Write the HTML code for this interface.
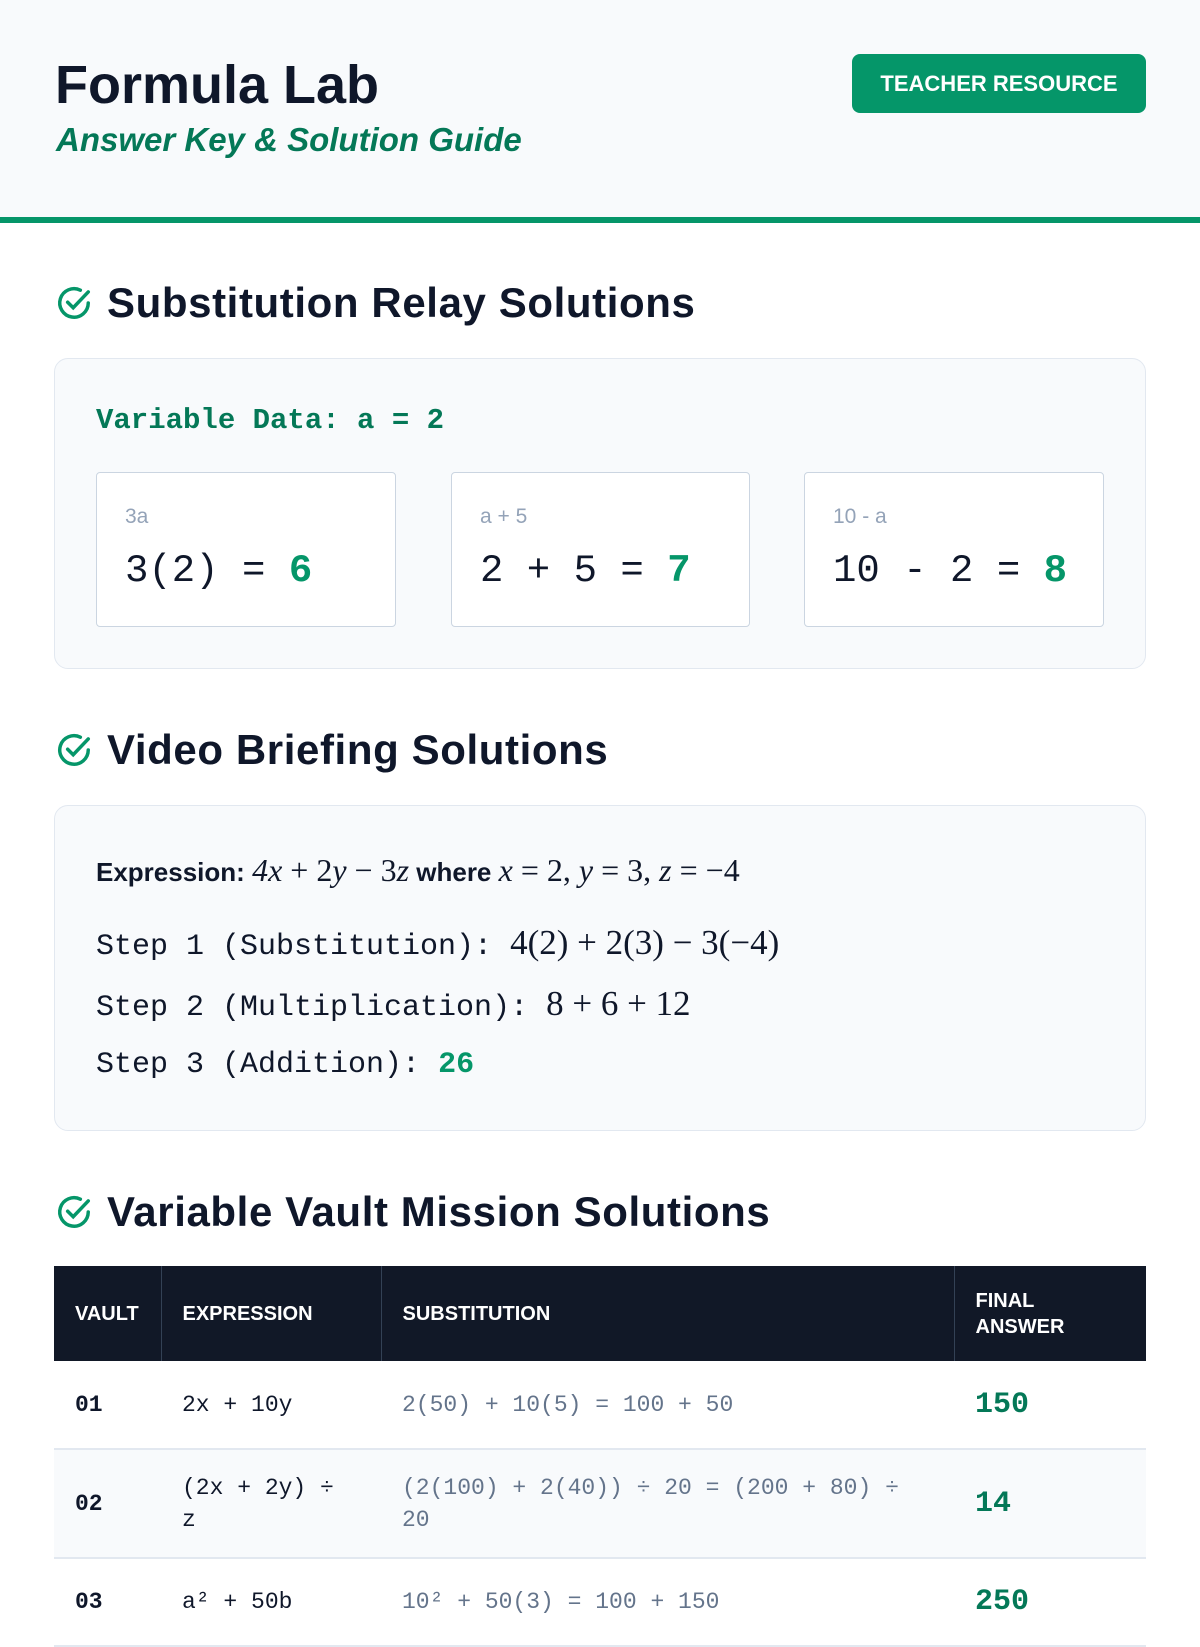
<!DOCTYPE html>
<html><head><meta charset="utf-8"><style>
*{box-sizing:border-box;margin:0;padding:0}
body{width:1200px;height:1600px;overflow:hidden;background:#fff;font-family:"Liberation Sans",sans-serif;color:#0f172a;position:relative}
.abs{position:absolute}
.mono{font-family:"Liberation Mono",monospace}
.math{font-family:"Liberation Serif",serif}
.g{color:#059669}
h2{position:absolute;left:107px;font-size:42px;letter-spacing:0.6px;font-weight:bold;color:#0f172a;line-height:1}
.chk{position:absolute;left:55px;width:38px;height:38px}
.card{position:absolute;left:54px;width:1092px;background:#f8fafc;border:1px solid #e2e8f0;border-radius:14px}
.sc{position:absolute;top:472px;height:155px;background:#fff;border:1px solid #cbd5e1;border-radius:4px}
.sc .l{position:absolute;left:28px;top:32px;font-size:21px;color:#94a3b8}
.sc .v{position:absolute;left:28px;top:76px;font-family:"Liberation Mono",monospace;font-size:39px;color:#0f172a}
.sc .v b{color:#059669}
table{position:absolute;left:54px;top:1266px;width:1092px;border-collapse:collapse;table-layout:fixed}
th{background:#111827;color:#fff;text-align:left;font-size:20px;font-weight:bold;padding:0 21px;height:95px;border-left:1px solid #334155;line-height:26px}
td{padding:0 21px;font-family:"Liberation Mono",monospace;font-size:23px;border-bottom:2px solid #e2e8f0;line-height:32px}
td.s{color:#64748b}
td.a{color:#047857;font-weight:bold;font-size:30px}
</style></head><body>
<div class="abs" style="left:0;top:0;width:1200px;height:217px;background:#f8fafc"></div>
<div class="abs" style="left:0;top:217px;width:1200px;height:6px;background:#059669"></div>
<div class="abs" style="left:55px;top:54px;font-size:54px;font-weight:bold">Formula Lab</div>
<div class="abs g" style="left:56px;top:121px;font-size:33px;font-style:italic;font-weight:bold;color:#047857">Answer Key &amp; Solution Guide</div>
<div class="abs" style="left:852px;top:54px;width:294px;height:59px;background:#059669;border-radius:8px;color:#fff;font-size:22px;font-weight:bold;text-align:center;line-height:59px">TEACHER RESOURCE</div>

<svg class="chk" style="top:284px" viewBox="0 0 24 24" fill="none" stroke="#059669" stroke-width="2.2" stroke-linecap="round"><path d="M21 12a9 9 0 1 1-5-8.1"/><path d="M8 11.5l3.5 3.5L21 5"/></svg>
<h2 style="top:282px">Substitution Relay Solutions</h2>
<div class="card" style="top:358px;height:311px"></div>
<div class="abs mono g" style="left:96px;top:404px;font-size:29px;font-weight:bold;color:#047857">Variable Data: a = 2</div>
<div class="sc" style="left:96px;width:300px"><div class="l">3a</div><div class="v">3(2) = <b>6</b></div></div>
<div class="sc" style="left:451px;width:299px"><div class="l">a + 5</div><div class="v">2 + 5 = <b>7</b></div></div>
<div class="sc" style="left:804px;width:300px"><div class="l">10 - a</div><div class="v">10 - 2 = <b>8</b></div></div>

<svg class="chk" style="top:731px" viewBox="0 0 24 24" fill="none" stroke="#059669" stroke-width="2.2" stroke-linecap="round"><path d="M21 12a9 9 0 1 1-5-8.1"/><path d="M8 11.5l3.5 3.5L21 5"/></svg>
<h2 style="top:729px">Video Briefing Solutions</h2>
<div class="card" style="top:805px;height:326px"></div>
<div class="abs" style="left:96px;top:852px;font-size:26px;white-space:nowrap"><b>Expression:</b> <span class="math" style="font-size:32px"><i>4x</i> + 2<i>y</i> − 3<i>z</i></span> <b>where</b> <span class="math" style="font-size:32px"><i>x</i> = 2, <i>y</i> = 3, <i>z</i> = −4</span></div>
<div class="abs mono" style="left:96px;top:923px;font-size:30px;white-space:nowrap">Step 1 (Substitution): <span class="math" style="font-size:35px">4(2) + 2(3) − 3(−4)</span></div>
<div class="abs mono" style="left:96px;top:984px;font-size:30px;white-space:nowrap">Step 2 (Multiplication): <span class="math" style="font-size:35px">8 + 6 + 12</span></div>
<div class="abs mono" style="left:96px;top:1048px;font-size:30px;white-space:nowrap">Step 3 (Addition): <b class="g">26</b></div>

<svg class="chk" style="top:1193px" viewBox="0 0 24 24" fill="none" stroke="#059669" stroke-width="2.2" stroke-linecap="round"><path d="M21 12a9 9 0 1 1-5-8.1"/><path d="M8 11.5l3.5 3.5L21 5"/></svg>
<h2 style="top:1191px">Variable Vault Mission Solutions</h2>
<table>
<colgroup><col style="width:107px"><col style="width:220px"><col style="width:573px"><col></colgroup>
<tr><th style="border-left:none">VAULT</th><th>EXPRESSION</th><th>SUBSTITUTION</th><th>FINAL<br>ANSWER</th></tr>
<tr style="height:88px"><td style="font-weight:bold">01</td><td>2x + 10y</td><td class="s">2(50) + 10(5) = 100 + 50</td><td class="a">150</td></tr>
<tr style="height:109px;background:#f8fafc"><td style="font-weight:bold">02</td><td>(2x + 2y) ÷ z</td><td class="s">(2(100) + 2(40)) ÷ 20 = (200 + 80) ÷ 20</td><td class="a">14</td></tr>
<tr style="height:88px"><td style="font-weight:bold">03</td><td>a² + 50b</td><td class="s">10² + 50(3) = 100 + 150</td><td class="a">250</td></tr>
</table>
</body></html>
